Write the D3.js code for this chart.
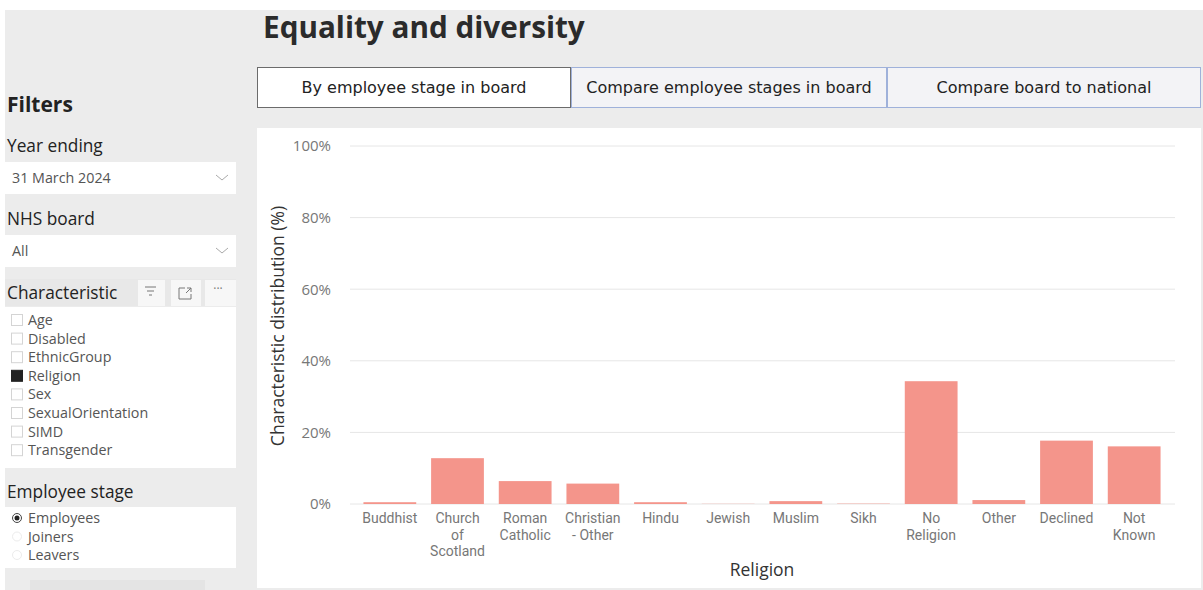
<!DOCTYPE html>
<html>
<head>
<meta charset="utf-8">
<script src="https://cdn.jsdelivr.net/npm/d3@7"></script>
<style>
  html, body { margin: 0; padding: 0; background: #ffffff; }
  svg { display: block; }
  text { font-family: "Open Sans", "Noto Sans", "DejaVu Sans", sans-serif; }
</style>
</head>
<body>
<svg id="page" width="1203" height="590"></svg>
<script>
// Religion distribution of employees, all NHS boards, year ending 31 March 2024
const categories = ["Buddhist", "Church of Scotland", "Roman Catholic", "Christian - Other",
  "Hindu", "Jewish", "Muslim", "Sikh", "No Religion", "Other", "Declined", "Not Known"];
const tickLines = [["Buddhist"], ["Church", "of", "Scotland"], ["Roman", "Catholic"], ["Christian", "- Other"],
  ["Hindu"], ["Jewish"], ["Muslim"], ["Sikh"], ["No", "Religion"], ["Other"], ["Declined"], ["Not", "Known"]];
const shares = [0.5, 12.8, 6.4, 5.7, 0.5, 0.05, 0.8, 0.1, 34.3, 1.1, 17.7, 16.1];
const yTicks = [0, 20, 40, 60, 80, 100];

const tabs = ["By employee stage in board", "Compare employee stages in board", "Compare board to national"];
const characteristics = ["Age", "Disabled", "EthnicGroup", "Religion", "Sex", "SexualOrientation", "SIMD", "Transgender"];
const selectedCharacteristic = "Religion";
const stages = ["Employees", "Joiners", "Leavers"];
const selectedStage = "Employees";

const svg = d3.select("#page");

// ---- page background ----
svg.append("rect").attr("x", 5).attr("y", 10).attr("width", 1198).attr("height", 580).attr("fill", "#ececec");

// ---- title ----
svg.append("text").attr("x", 263).attr("y", 38)
  .attr("font-size", 29.7).attr("font-weight", 700).attr("fill", "#2b2b2b")
  .text("Equality and diversity");

// ---- tabs ----
const tabX = [257, 571, 887, 1201];
tabs.forEach((t, i) => {
  const active = i === 0;
  svg.append("rect").attr("x", tabX[i] + 0.5).attr("y", 67.5)
    .attr("width", tabX[i + 1] - tabX[i] - 1).attr("height", 40)
    .attr("fill", active ? "#ffffff" : "#f3f3f6")
    .attr("stroke", active ? "#6b6b6b" : "#9fb1da").attr("stroke-width", 1);
  svg.append("text").attr("x", (tabX[i] + tabX[i + 1]) / 2).attr("y", 93)
    .attr("text-anchor", "middle").attr("font-size", 16).attr("fill", "#222")
    .style("font-family", "'DejaVu Sans', sans-serif")
    .text(t);
});

// ---- filter pane ----
const pane = svg.append("g");
pane.append("text").attr("x", 7).attr("y", 112).attr("font-size", 21).attr("font-weight", 700).attr("fill", "#222").text("Filters");

const labelSize = 17.3, itemSize = 14.3;

function dropdown(label, value, yLabel, yBox) {
  pane.append("text").attr("x", 7).attr("y", yLabel).attr("font-size", labelSize).attr("fill", "#222").text(label);
  pane.append("rect").attr("x", 5).attr("y", yBox).attr("width", 231).attr("height", 32).attr("fill", "#ffffff");
  pane.append("text").attr("x", 12).attr("y", yBox + 21).attr("font-size", itemSize).attr("fill", "#555").text(value);
  pane.append("path").attr("d", `M${216},${yBox + 13} l6,5 l6,-5`).attr("fill", "none").attr("stroke", "#aaa").attr("stroke-width", 1);
}
dropdown("Year ending", "31 March 2024", 152, 162);
dropdown("NHS board", "All", 225, 235);

// characteristic header
pane.append("rect").attr("x", 5).attr("y", 279).attr("width", 231).attr("height", 27).attr("fill", "#e8e8e8");
pane.append("text").attr("x", 7).attr("y", 299).attr("font-size", labelSize).attr("fill", "#222").text("Characteristic");
[[138, 27], [171, 30], [205, 31]].forEach(([x, w]) => {
  pane.append("rect").attr("x", x).attr("y", 280).attr("width", w).attr("height", 26).attr("fill", "#f7f7f7");
});
pane.append("path").attr("d", "M145,287 h11 M147,291 h7 M149,295 h3").attr("stroke", "#777").attr("stroke-width", 1);
pane.append("path").attr("d", "M179,288 h6 M179,288 v11 h12 v-5 M186,293 l5,-5 M187,288 h4 v4").attr("fill", "none").attr("stroke", "#777").attr("stroke-width", 1);
pane.append("text").attr("x", 218).attr("y", 293).attr("font-size", 12).attr("fill", "#777").attr("text-anchor", "middle").text("···");

pane.append("rect").attr("x", 5).attr("y", 307).attr("width", 231).attr("height", 161).attr("fill", "#ffffff");
characteristics.forEach((c, i) => {
  const y = 320 + i * 18.6;
  const on = c === selectedCharacteristic;
  pane.append("rect").attr("x", 11.5).attr("y", y - 5.5).attr("width", 11).attr("height", 11)
    .attr("fill", on ? "#222" : "#ffffff").attr("stroke", on ? "#222" : "#d4d4d4");
  pane.append("text").attr("x", 28).attr("y", y + 5).attr("font-size", itemSize).attr("fill", "#555").text(c);
});

pane.append("text").attr("x", 7).attr("y", 498).attr("font-size", labelSize).attr("fill", "#222").text("Employee stage");
pane.append("rect").attr("x", 5).attr("y", 507).attr("width", 231).attr("height", 61).attr("fill", "#ffffff");
stages.forEach((s, i) => {
  const y = 518 + i * 18.5;
  const on = s === selectedStage;
  pane.append("circle").attr("cx", 17).attr("cy", y).attr("r", 4.5).attr("fill", "#fff").attr("stroke", on ? "#444" : "#ececec");
  if (on) pane.append("circle").attr("cx", 17).attr("cy", y).attr("r", 2.5).attr("fill", "#222");
  pane.append("text").attr("x", 28).attr("y", y + 5).attr("font-size", itemSize).attr("fill", "#555").text(s);
});
pane.append("rect").attr("x", 30).attr("y", 580).attr("width", 175).attr("height", 10).attr("fill", "#e4e4e4");

// ---- chart panel ----
svg.append("rect").attr("x", 257).attr("y", 128).attr("width", 944).attr("height", 460).attr("fill", "#ffffff");

const x = d3.scaleBand().domain(categories).range([356, 1168]).paddingInner(0.22).paddingOuter(0.11);
const y = d3.scaleLinear().domain([0, 100]).range([504, 146]);

// gridlines
svg.append("g").selectAll("line").data(yTicks).join("line")
  .attr("x1", 350).attr("x2", 1175)
  .attr("y1", d => y(d)).attr("y2", d => y(d))
  .attr("stroke", "#e6e6e6").attr("stroke-width", 1);

// y axis
const yAxis = svg.append("g").attr("transform", "translate(331,0)")
  .call(d3.axisLeft(y).tickValues(yTicks).tickFormat(d => d + "%").tickSize(0).tickPadding(0));
yAxis.select(".domain").remove();
yAxis.selectAll("text").attr("font-size", 15).attr("fill", "#777")
  .style("font-family", "'Open Sans', 'Noto Sans', sans-serif");

// bars
svg.append("g").selectAll("rect").data(categories).join("rect")
  .attr("x", d => x(d))
  .attr("width", x.bandwidth())
  .attr("y", (d, i) => y(shares[i]))
  .attr("height", (d, i) => y(0) - y(shares[i]))
  .attr("fill", "#f4958b");

// x axis: category names wrapped onto stacked lines
const lineGap = 16.5;
const xAxis = svg.append("g").attr("transform", `translate(0,${y(0)})`)
  .call(d3.axisBottom(x).tickSize(0).tickPadding(0));
xAxis.select(".domain").remove();
xAxis.selectAll(".tick text").each(function (d) {
  const t = d3.select(this).text(null).attr("font-size", 14).attr("fill", "#777")
    .style("font-family", "Roboto, 'Open Sans', sans-serif").attr("y", 19).attr("dy", null);
  tickLines[categories.indexOf(d)].forEach((line, j) => {
    t.append("tspan").attr("x", 0).attr("y", 19 + j * lineGap).text(line);
  });
});

// axis titles
svg.append("text").attr("x", 762).attr("y", 576).attr("text-anchor", "middle")
  .attr("font-size", 17.5).attr("fill", "#333").text("Religion");
svg.append("text").attr("transform", "translate(284,326) rotate(-90)").attr("text-anchor", "middle")
  .attr("font-size", 17.5).attr("fill", "#333").text("Characteristic distribution (%)");
</script>
</body>
</html>
